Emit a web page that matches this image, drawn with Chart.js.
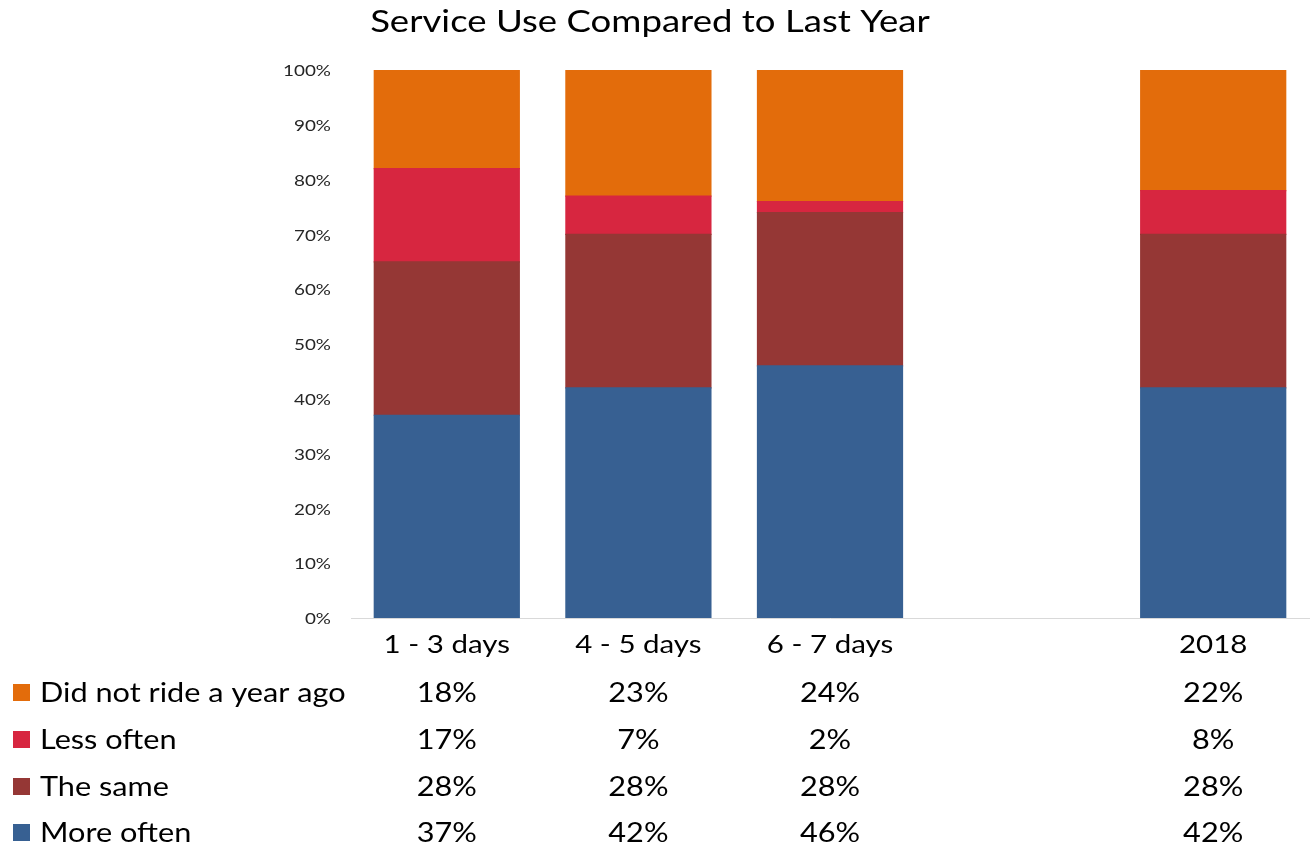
<!DOCTYPE html>
<html lang="en">
  <head>
    <meta charset="UTF-8" />
    <title>Service Use Compared to Last Year</title>
    <script src="https://cdn.jsdelivr.net/npm/chart.js@4.4.1/dist/chart.umd.min.js"></script>
    <style>
      html, body { margin: 0; padding: 0; background: #fff; }
      .chart-view { width: 1314px; height: 850px; }
    </style>
  </head>
  <body>
    <div class="chart-view">
      <canvas id="chart"></canvas>
    </div>

    <script>
      //data
      const labels = ['1 - 3 days', '4 - 5 days', '6 - 7 days', '', '2018'];
      const moreOften = [37, 42, 46, null, 42];
      const theSame = [28, 28, 28, null, 28];
      const lessOften = [17, 7, 2, null, 8];
      const didNotRide = [18, 23, 24, null, 22];
      const yTicks = [0, 10, 20, 30, 40, 50, 60, 70, 80, 90, 100];

      const FONT = 'Lato, "Open Sans", sans-serif';
      const STRETCH = 1.18; // the original font is wider than Lato
      const COLORS = {
        orange: '#E36C0B',
        red: '#D72640',
        darkRed: '#953735',
        blue: '#376092'
      };

      const data = {
        labels: labels,
        datasets: [
          { label: 'More often', data: moreOften, backgroundColor: COLORS.blue },
          { label: 'The same', data: theSame, backgroundColor: COLORS.darkRed },
          { label: 'Less often', data: lessOften, backgroundColor: COLORS.red },
          { label: 'Did not ride a year ago', data: didNotRide, backgroundColor: COLORS.orange }
        ]
      };

      function text(ctx, str, x, y, size, align, color) {
        ctx.save();
        ctx.translate(x, y);
        ctx.scale(STRETCH, 1);
        ctx.font = size + 'px ' + FONT;
        ctx.textAlign = align;
        ctx.textBaseline = 'middle';
        ctx.fillStyle = color || '#000';
        ctx.fillText(str, 0, 0);
        ctx.restore();
      }

      // title, axis labels and data table
      const tablePlugin = {
        id: 'dataTable',
        afterDraw(chart) {
          const ctx = chart.ctx;
          const x = chart.scales.x;
          const y = chart.scales.y;

          text(ctx, 'Service Use Compared to Last Year', 650, 22, 31, 'center');

          yTicks.forEach(v => {
            text(ctx, v + '%', 331, y.getPixelForValue(v) + 1, 16, 'right', '#262626');
          });

          chart.data.labels.forEach((l, i) => {
            if (l) text(ctx, l, x.getPixelForValue(i), 645, 25, 'center');
          });

          const rows = [3, 2, 1, 0];
          const rowY = [693, 740, 787, 833];
          rows.forEach((di, r) => {
            const ds = chart.data.datasets[di];
            const ry = rowY[r];
            ctx.fillStyle = ds.backgroundColor;
            ctx.fillRect(13, ry - 9, 17, 17);
            text(ctx, ds.label, 40, ry + 1, 26, 'left');
            ds.data.forEach((v, i) => {
              if (v === null) return;
              text(ctx, v + '%', x.getPixelForValue(i), ry + 1, 26, 'center');
            });
          });
        }
      };

      //config
      const config = {
        type: 'bar',
        data: data,
        options: {
          responsive: true,
          maintainAspectRatio: false,
          animation: false,
          layout: { padding: { top: 70, right: 5, left: 0, bottom: 0 } },
          datasets: {
            bar: { categoryPercentage: 1, barPercentage: 0.757, borderWidth: 0, inflateAmount: 0.6 }
          },
          plugins: {
            legend: { display: false },
            title: { display: false },
            tooltip: { enabled: false }
          },
          scales: {
            x: {
              stacked: true,
              grid: { display: false },
              border: { display: true, color: '#D9D9D9', width: 1 },
              ticks: { display: false },
              afterFit(scale) { scale.height = 232; }
            },
            y: {
              stacked: true,
              min: 0,
              max: 100,
              grid: { display: false, drawTicks: false },
              border: { display: false },
              ticks: { display: false },
              afterFit(scale) { scale.width = 351; }
            }
          }
        },
        plugins: [tablePlugin]
      };

      //init
      const ctx = document.getElementById('chart');
      const chart = new Chart(ctx, config);
    </script>
  </body>
</html>
